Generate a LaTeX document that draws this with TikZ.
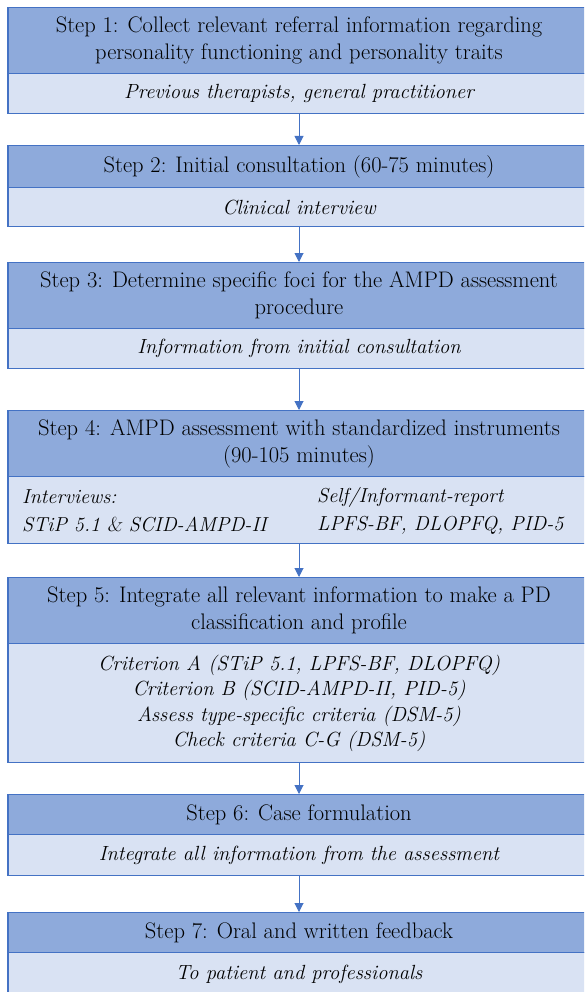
\documentclass[tikz,border=0pt]{standalone}
\usepackage{fontspec}
\usetikzlibrary{arrows.meta}
\definecolor{hdr}{HTML}{8EAADB}
\definecolor{subfill}{HTML}{D9E2F3}
\definecolor{edgeblue}{HTML}{4472C4}
\newcommand{\slamp}{{\fontshape{sl}\selectfont\&}}
\tikzset{
 box/.style={draw=edgeblue, line width=1.3pt, minimum width=582pt, inner sep=0pt, align=center, anchor=north, font=\fontsize{22.5}{27}\selectfont},
 hbox/.style={box, fill=hdr},
 sbox/.style={box, fill=subfill, font=\fontsize{20.5}{25.5}\selectfont\itshape},
 coltext/.style={anchor=west, align=left, inner sep=0pt, font=\fontsize{20.2}{28}\selectfont\itshape},
 flow/.style={draw=edgeblue, line width=1pt, -{Triangle[width=9pt,length=9pt]}}
}
\begin{document}
\begin{tikzpicture}[x=1pt,y=-1pt]
\useasboundingbox (0,0) rectangle (584,992);
\clip (0,0) rectangle (584,992);
\node[hbox, minimum height=66pt] (h1) at (299,7) {Step 1: Collect relevant referral information regarding\\personality functioning and personality traits};
\node[sbox, minimum height=40pt] (s1) at (299,73) {Previous therapists, general practitioner};
\node[hbox, minimum height=42pt] (h2) at (299,145) {Step 2: Initial consultation (60-75 minutes)};
\node[sbox, minimum height=39pt] (s2) at (299,187) {Clinical interview};
\node[hbox, minimum height=66pt] (h3) at (299,262) {Step 3: Determine specific foci for the AMPD assessment\\procedure};
\node[sbox, minimum height=40pt] (s3) at (299,328) {Information from initial consultation};
\node[hbox, minimum height=66pt] (h4) at (299,410) {Step 4: AMPD assessment with standardized instruments\\(90-105 minutes)};
\node[sbox, minimum height=67pt] (s4) at (299,476) {};
\node[coltext] (s4a) at (22,511) {Interviews:\\STiP 5.1 \slamp{} SCID-AMPD-II};
\node[coltext] (s4b) at (317,511) {Self/Informant-report\\LPFS-BF, DLOPFQ, PID-5};
\node[hbox, minimum height=66pt] (h5) at (299,577) {Step 5: Integrate all relevant information to make a PD\\classification and profile};
\node[sbox, minimum height=119pt] (s5) at (299,643) {Criterion A (STiP 5.1, LPFS-BF, DLOPFQ)\\Criterion B (SCID-AMPD-II, PID-5)\\Assess type-specific criteria (DSM-5)\\Check criteria C-G (DSM-5)};
\node[hbox, minimum height=40pt] (h6) at (299,794) {Step 6: Case formulation};
\node[sbox, minimum height=41pt] (s6) at (299,834) {Integrate all information from the assessment};
\node[hbox, minimum height=40pt] (h7) at (299,912) {Step 7: Oral and written feedback};
\node[sbox, minimum height=44pt] (s7) at (299,952) {To patient and professionals};
\draw[flow] (s1.south) -- (h2.north);
\draw[flow] (s2.south) -- (h3.north);
\draw[flow] (s3.south) -- (h4.north);
\draw[flow] (s4.south) -- (h5.north);
\draw[flow] (s5.south) -- (h6.north);
\draw[flow] (s6.south) -- (h7.north);
\end{tikzpicture}
\end{document}
